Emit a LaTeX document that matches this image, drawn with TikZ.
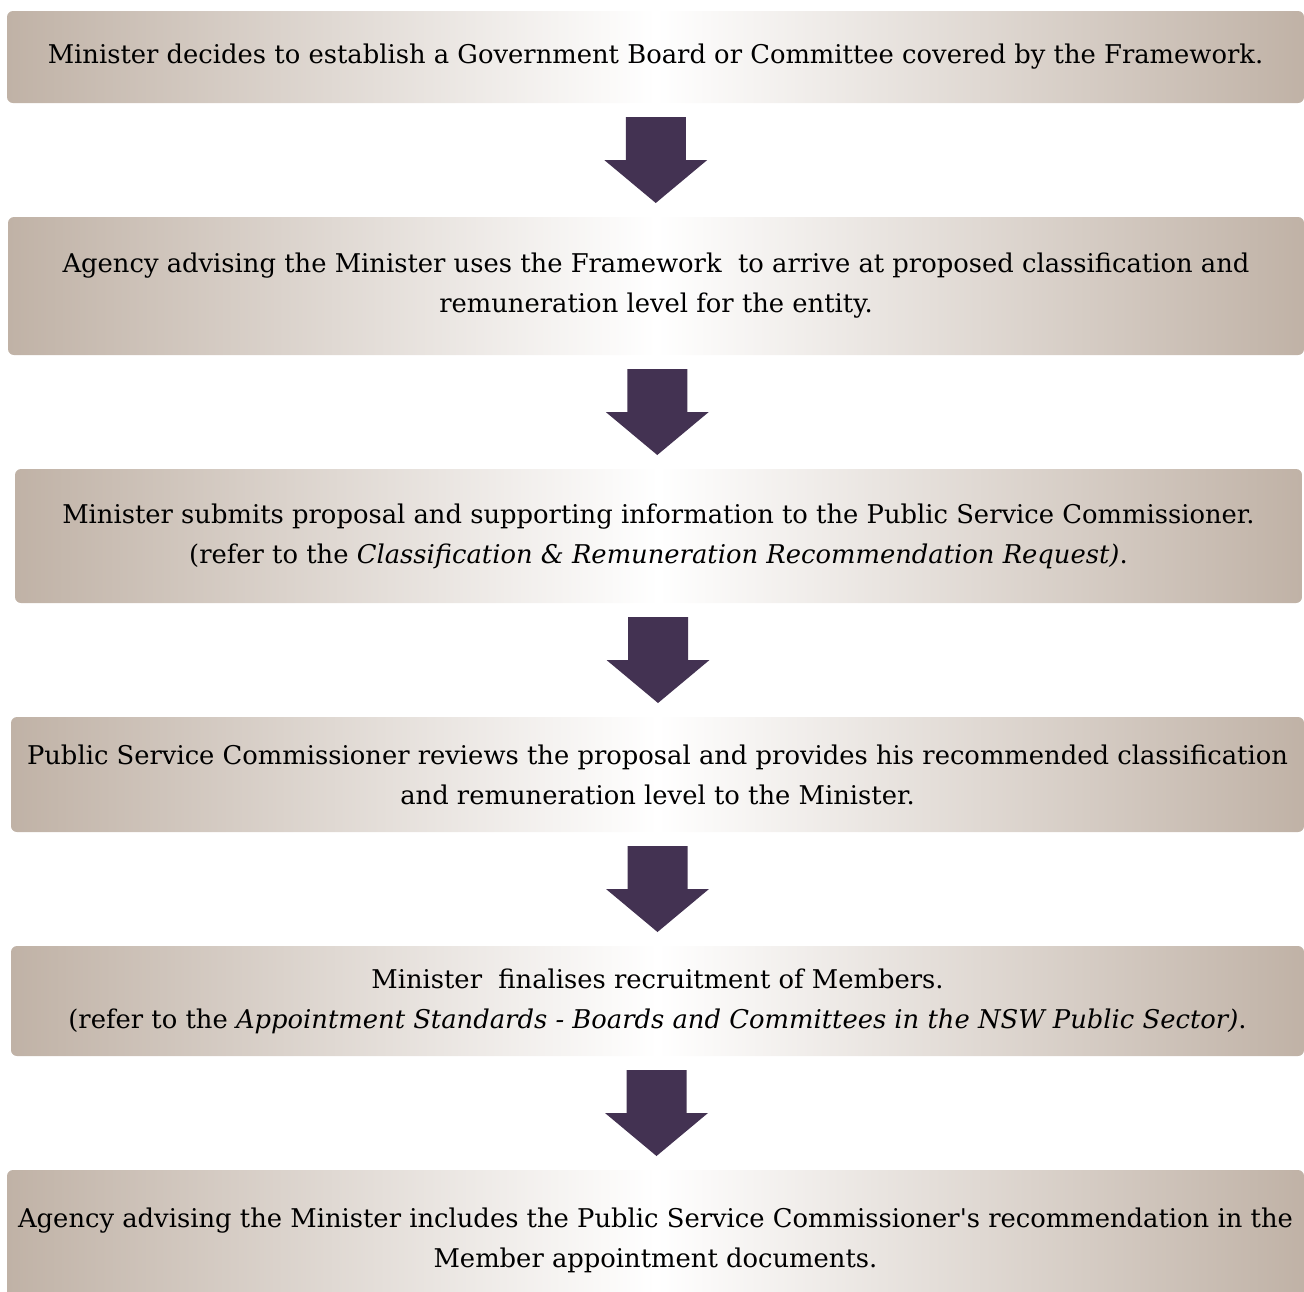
\documentclass[tikz,border=0pt]{standalone}
\usepackage{fontspec}
\setmainfont{DejaVu Serif}
\usetikzlibrary{calc}
\definecolor{boxtan}{RGB}{192,178,166}
\definecolor{arrowplum}{RGB}{67,50,82}
\tikzset{
  stage/.style={rounded corners=6pt, left color=boxtan, right color=boxtan,
    middle color=white, align=center, inner sep=0pt,
    font=\fontsize{25.8}{40}\selectfont},
  bigarrow/.style={fill=arrowplum}
}
% block arrow halfway between two stages
\newcommand{\flowarrow}[2]{%
  \path ($(#1.south)!0.5!(#2.north)$) coordinate (m);
  \fill[bigarrow] ($(m)+(-30,-43)$) -- ($(m)+(30,-43)$) -- ($(m)+(30,0)$)
    -- ($(m)+(51.5,0)$) -- ($(m)+(0,43)$) -- ($(m)+(-51.5,0)$)
    -- ($(m)+(-30,0)$) -- cycle;}
\begin{document}
\begin{tikzpicture}[x=1pt,y=-1pt]
  \useasboundingbox (0,0) rectangle (1304,1291);
  \node[stage, minimum width=1297pt, minimum height=92pt] (s1) at (655.5,57)
    {Minister decides to establish a Government Board or Committee covered by the Framework.};
  \node[stage, minimum width=1296pt, minimum height=138pt] (s2) at (656,286)
    {Agency advising the Minister uses the Framework~ to arrive at proposed classification and\\
     remuneration level for the entity.};
  \node[stage, minimum width=1287pt, minimum height=134pt] (s3) at (658.5,536)
    {Minister submits proposal and supporting information to the Public Service Commissioner.\\
     (refer to the \textit{Classification \& Remuneration Recommendation Request)}.};
  \node[stage, minimum width=1293pt, minimum height=115pt] (s4) at (657.5,774.5)
    {Public Service Commissioner reviews the proposal and provides his recommended classification\\
     and remuneration level to the Minister.};
  \node[stage, minimum width=1293pt, minimum height=110pt] (s5) at (657.5,1001)
    {Minister~ finalises recruitment of Members.\\
     (refer to the \textit{Appointment Standards - Boards and Committees in the NSW Public Sector)}.};
  \node[stage, minimum width=1297pt, minimum height=140pt] (s6) at (655.5,1240)
    {Agency advising the Minister includes the Public Service Commissioner\textquotesingle s recommendation in the\\
     Member appointment documents.};
  \flowarrow{s1}{s2}
  \flowarrow{s2}{s3}
  \flowarrow{s3}{s4}
  \flowarrow{s4}{s5}
  \flowarrow{s5}{s6}
\end{tikzpicture}
\end{document}
